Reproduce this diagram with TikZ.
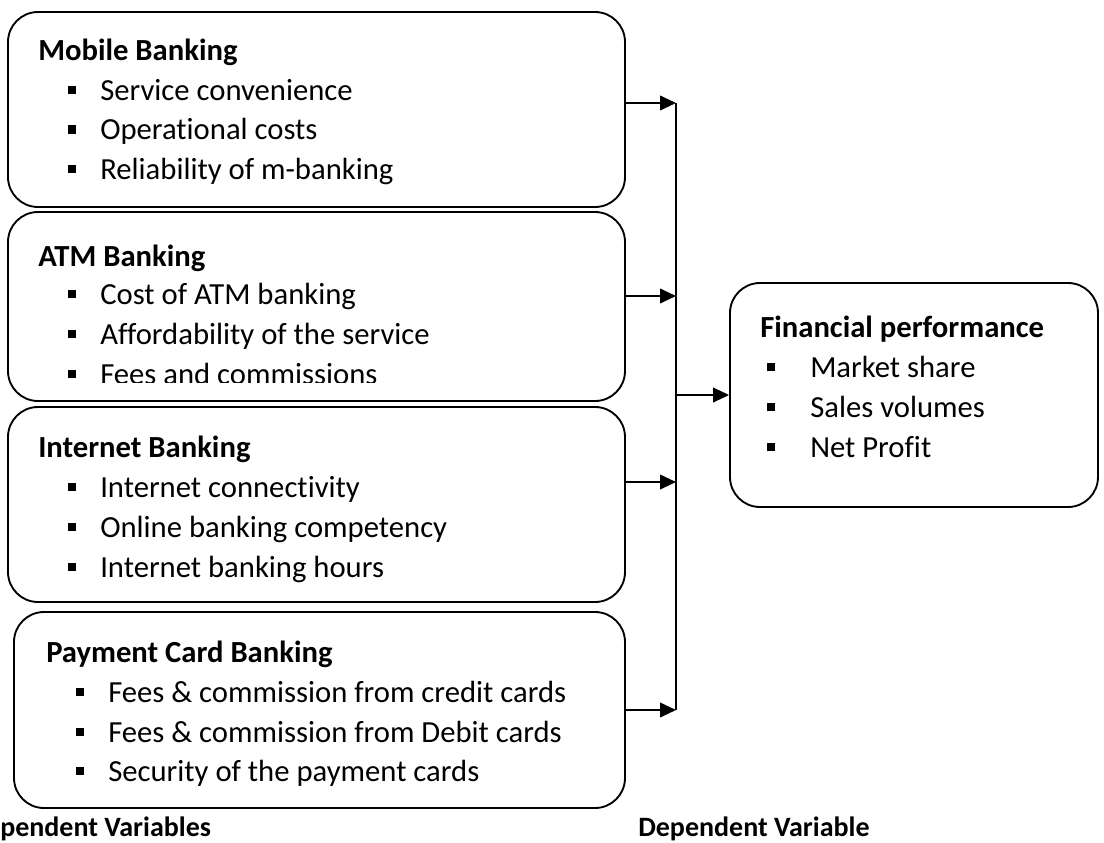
\documentclass[tikz,border=0pt]{standalone}
\usepackage{fontspec}
\setmainfont{Carlito}[Ligatures={NoCommon}]
\usetikzlibrary{arrows.meta}
\newcommand\bitem[5]{%
  \node[bulsq] (#1b) at (#2,{#4-10}) {};
  \node[itm] (#1) at (#3,#4) {#5};
}
\begin{document}
\begin{tikzpicture}[x=0.75pt,y=-0.75pt,
  box/.style={draw, line width=1.4pt, rounded corners=22.5pt, inner sep=0, fill=none},
  ttl/.style={anchor=base west, font=\bfseries\fontsize{23}{28}\selectfont, inner sep=0},
  itm/.style={anchor=base west, font=\fontsize{23}{28}\selectfont, inner sep=0},
  lbl/.style={anchor=base west, font=\bfseries\fontsize{21}{26}\selectfont, inner sep=0},
  bulsq/.style={fill=black, minimum size=6.6pt, inner sep=0},
  conn/.style={line width=1.4pt, -{Triangle[length=12pt,width=11pt]}},
  trunk/.style={line width=1.4pt}]
\useasboundingbox (0,0) rectangle (1104,843);

% boxes
\node[box, minimum width=462.75pt, minimum height=146.25pt] (mob) at (316.5,109.5) {};
\node[box, minimum width=462.75pt, minimum height=141.75pt] (atm) at (316.5,306.5) {};
\node[box, minimum width=462.75pt, minimum height=146.25pt] (inet) at (316.5,504.5) {};
\node[box, minimum width=458.25pt, minimum height=147pt] (card) at (319.5,710) {};
\node[box, minimum width=276pt, minimum height=168pt] (fin) at (914,395) {};

% Mobile banking
\node[ttl] (mobt) at (38,60) {Mobile Banking};
\bitem{mob1}{72}{100}{100}{Service convenience}
\bitem{mob2}{72}{100}{139.5}{Operational costs}
\bitem{mob3}{72}{100}{179}{Reliability of m-banking}

% ATM banking
\node[ttl] (atmt) at (38,266) {ATM Banking};
\bitem{atm1}{72}{100}{304}{Cost of ATM banking}
\bitem{atm2}{72}{100}{344}{Affordability of the service}
\node[bulsq] (atm3b) at (72,374) {};
\begin{scope}
  \clip (0,340) rectangle (640,382);
  \node[itm] (atm3) at (100,384) {Fees and commissions};
\end{scope}

% Internet banking
\node[ttl] (inett) at (38,457) {Internet Banking};
\bitem{inet1}{72}{100}{497}{Internet connectivity}
\bitem{inet2}{72}{100}{537}{Online banking competency}
\bitem{inet3}{72}{100}{577}{Internet banking hours}

% Payment card banking
\node[ttl] (cardt) at (46,662) {Payment Card Banking};
\bitem{card1}{80}{108}{702}{Fees \& commission from credit cards}
\bitem{card2}{80}{108}{742}{Fees \& commission from Debit cards}
\bitem{card3}{80}{108}{781}{Security of the payment cards}

% Financial performance
\node[ttl] (fint) at (760,337) {Financial performance};
\bitem{fin1}{771}{810}{377}{Market share}
\bitem{fin2}{771}{810}{417}{Sales volumes}
\bitem{fin3}{771}{810}{457}{Net Profit}

% connectors
\coordinate (j1) at (676,103);
\coordinate (j2) at (676,296);
\coordinate (j3) at (676,482);
\coordinate (j4) at (676,710);
\coordinate (jm) at (676,395);
\draw[conn] (mob.east |- j1) -- (j1);
\draw[conn] (atm.east |- j2) -- (j2);
\draw[conn] (inet.east |- j3) -- (j3);
\draw[conn] (card.east |- j4) -- (j4);
\draw[trunk] (j1) -- (j4);
\draw[conn] (jm) -- (fin.west |- jm);

% bottom labels
\node[lbl] (indep) at (0,836) {pendent Variables};
\node[lbl] (dep) at (638,836) {Dependent Variable};
\end{tikzpicture}
\end{document}
